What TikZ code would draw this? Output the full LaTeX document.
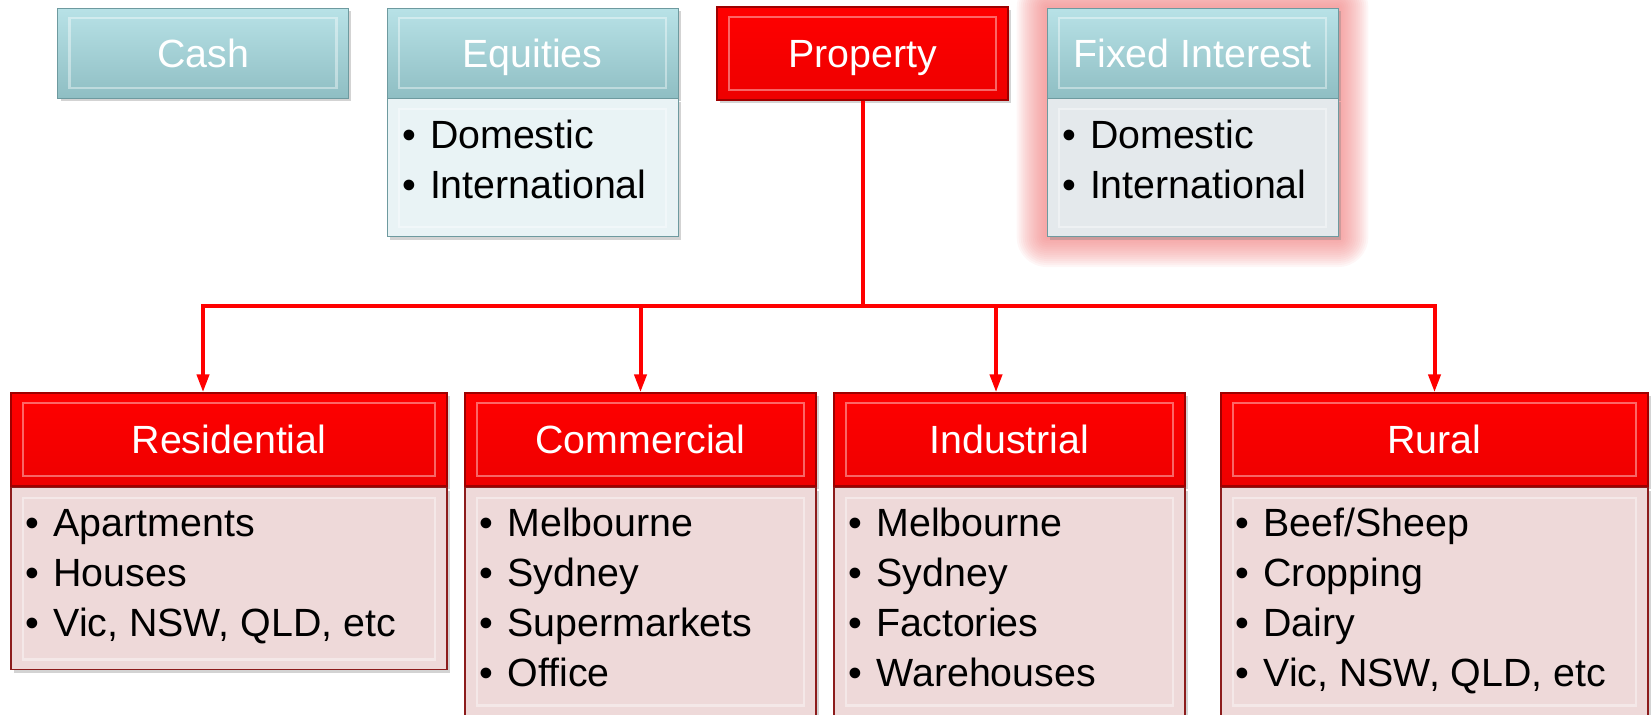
\documentclass[tikz,border=0pt]{standalone}
\usepackage{fontspec}
\setmainfont{Liberation Sans}
\usetikzlibrary{arrows.meta,positioning,shadows,backgrounds}

\definecolor{tealtop}{HTML}{B8E2E7}
\definecolor{tealbot}{HTML}{8FBEC3}
\definecolor{tealedge}{HTML}{6E9A9F}
\definecolor{redbot}{HTML}{EE0000}
\definecolor{rededge}{HTML}{9E0000}
\definecolor{pinkfill}{HTML}{EED9D9}
\definecolor{pinkedge}{HTML}{8C1C1C}
\definecolor{icefill}{HTML}{E9F3F5}
\definecolor{greyfill}{HTML}{E4E9EC}
\definecolor{glowred}{HTML}{F07878}

\newcommand{\boxfont}{\fontsize{22.4pt}{28.45pt}\selectfont}
\newcommand{\bul}{\makebox[0.56cm][l]{\textbullet}}

\tikzset{
  box/.style={rectangle, inner sep=0pt,
    drop shadow={shadow xshift=0.06cm, shadow yshift=-0.06cm, opacity=0.35},
    path picture={\draw[white, opacity=0.4, line width=1.2pt]
      ([shift={(12,10)}]path picture bounding box.north west) rectangle
      ([shift={(-12,-10)}]path picture bounding box.south east);}},
  tealhead/.style={box, draw=tealedge, top color=tealtop, bottom color=tealbot,
    text=white, font=\boxfont, minimum width=5.82cm, minimum height=1.8cm,
    text height=0.564cm, text depth=0pt},
  redhead/.style={box, draw=rededge, line width=0.8pt, top color=red, bottom color=redbot,
    text=white, font=\boxfont, minimum height=1.86cm,
    text height=0.564cm, text depth=0pt},
  tealbody/.style={box, draw=tealedge, fill=#1, minimum width=5.82cm, minimum height=2.76cm},
  pinkbody/.style={box, draw=pinkedge, line width=1pt, fill=pinkfill},
  items/.style={anchor=base west, inner sep=0pt, font=\boxfont},
  link/.style={draw=red, line width=0.08cm, -{Triangle[length=0.36cm, width=0.24cm]}},
}

\begin{document}
\begin{tikzpicture}[x=0.02cm, y=-0.02cm]

\useasboundingbox (0,0) rectangle (1652,715);

% top row
\node[tealhead] (cash) at (203,53) {Cash};

\node[tealhead] (eqh) at (532.5,53) {Equities};
\node[tealbody=icefill, below=0pt of eqh] (eqb) {};
\node[items] (eqt) at ([shift={(15,50)}]eqb.north west)
  {\parbox[t]{5.4cm}{\boxfont\bul Domestic\\\bul International}};

\node[redhead, minimum width=5.82cm] (prop) at (862.5,53.5) {Property};

\node[tealhead] (fixh) at (1192.5,53) {Fixed Interest};
\node[tealbody=greyfill, below=0pt of fixh] (fixb) {};
\node[items] (fixt) at ([shift={(15,50)}]fixb.north west)
  {\parbox[t]{5.4cm}{\boxfont\bul Domestic\\\bul International}};

\begin{scope}[on background layer]
\foreach \g in {2,4,...,30}
  \fill[glowred, opacity=0.065, rounded corners=\g*0.02cm]
    ([shift={(-\g,-\g)}]fixh.north west) rectangle ([shift={(\g,\g)}]fixb.south east);
\end{scope}

% bottom row
\node[redhead, minimum width=8.72cm] (resh) at (229,439.5) {Residential};
\node[pinkbody, minimum width=8.72cm, minimum height=3.64cm, below=0pt of resh] (resb) {};
\node[items] (rest) at ([shift={(15,50)}]resb.north west)
  {\parbox[t]{8cm}{\boxfont\bul Apartments\\\bul Houses\\\bul Vic, NSW, QLD, etc}};

\node[redhead, minimum width=7.02cm] (comh) at (640.5,439.5) {Commercial};
\node[pinkbody, minimum width=7.02cm, minimum height=4.56cm, below=0pt of comh] (comb) {};
\node[items] (comt) at ([shift={(15,50)}]comb.north west)
  {\parbox[t]{6.5cm}{\boxfont\bul Melbourne\\\bul Sydney\\\bul Supermarkets\\\bul Office}};

\node[redhead, minimum width=7.02cm] (indh) at (1009.5,439.5) {Industrial};
\node[pinkbody, minimum width=7.02cm, minimum height=4.56cm, below=0pt of indh] (indb) {};
\node[items] (indt) at ([shift={(15,50)}]indb.north west)
  {\parbox[t]{6.5cm}{\boxfont\bul Melbourne\\\bul Sydney\\\bul Factories\\\bul Warehouses}};

\node[redhead, minimum width=8.54cm] (rurh) at (1434.5,439.5) {Rural};
\node[pinkbody, minimum width=8.54cm, minimum height=4.56cm, below=0pt of rurh] (rurb) {};
\node[items] (rurt) at ([shift={(15,50)}]rurb.north west)
  {\parbox[t]{8cm}{\boxfont\bul Beef/Sheep\\\bul Cropping\\\bul Dairy\\\bul Vic, NSW, QLD, etc}};

% connectors
\coordinate (bus) at (864,306);
\draw[link] (prop.south) -- (prop.south |- bus) -| ([xshift=-0.52cm]resh.north);
\draw[link] (prop.south) -- (prop.south |- bus) -| (comh.north);
\draw[link] (prop.south) -- (prop.south |- bus) -| ([xshift=-0.27cm]indh.north);
\draw[link] (prop.south) -- (prop.south |- bus) -| (rurh.north);

\end{tikzpicture}
\end{document}
